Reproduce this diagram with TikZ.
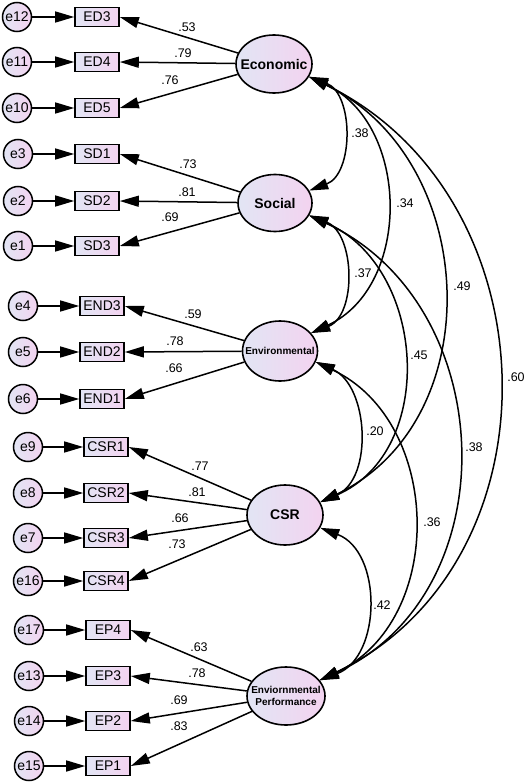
\documentclass[tikz,border=0pt]{standalone}
\usepackage{fontspec}
\setmainfont{Liberation Sans}
\usetikzlibrary{arrows.meta,shapes.geometric}
\definecolor{cl}{RGB}{226,229,244}
\definecolor{cr}{RGB}{243,211,240}
\begin{document}
\begin{tikzpicture}[x=1pt,y=1pt,
  errnode/.style={circle, draw, line width=1.5pt, minimum size=29pt, inner sep=0pt, left color=cl, right color=cr, font=\fontsize{14}{14}\selectfont},
  obsnode/.style={rectangle, draw, line width=1.6pt, minimum width=44pt, minimum height=19pt, inner sep=0pt, left color=cl, right color=cr, font=\fontsize{14}{14}\selectfont},
  latnode/.style={ellipse, draw, line width=1.6pt, inner sep=0pt, left color=cl, right color=cr},
  latlbl/.style={font=\bfseries\fontsize{14}{14}\selectfont, inner sep=0pt},
  onearrow/.style={line width=1.5pt, -{Triangle[length=19pt,width=11pt]}},
  twoarrow/.style={line width=1.5pt, {Triangle[length=19pt,width=11pt]}-{Triangle[length=19pt,width=11pt]}},
  lbl/.style={font=\fontsize{12.5}{12.5}\selectfont, inner sep=0pt}
]
\fill[white] (0,0) rectangle (526,-784);
\useasboundingbox (0,0) rectangle (526,-784);

% latent variables
\node[latnode, minimum width=76pt, minimum height=58pt, label={[latlbl]center:Economic}] (Eco) at (274,-64) {};
\node[latnode, minimum width=74pt, minimum height=57pt, label={[latlbl]center:Social}] (Soc) at (275,-203) {};
\node[latnode, minimum width=75pt, minimum height=60pt, label={[latlbl, font=\bfseries\fontsize{10}{10}\selectfont]center:Environmental}] (Env) at (280,-351) {};
\node[latnode, minimum width=76pt, minimum height=60pt, label={[latlbl]center:CSR}] (CSR) at (285,-515) {};
\node[latnode, minimum width=78pt, minimum height=58pt, label={[latlbl, align=center, font=\bfseries\fontsize{10}{11.5}\selectfont]center:{Enviornmental\\Performance}}] (EP) at (286,-696) {};

% observed variables and errors
\node[obsnode] (ED3) at (97,-17) {ED3};
\node[obsnode] (ED4) at (97,-62) {ED4};
\node[obsnode] (ED5) at (97,-108) {ED5};
\node[errnode] (e12) at (17,-17) {e12};
\node[errnode] (e11) at (17,-62) {e11};
\node[errnode] (e10) at (17,-108) {e10};

\node[obsnode] (SD1) at (97,-154) {SD1};
\node[obsnode] (SD2) at (97,-201) {SD2};
\node[obsnode] (SD3) at (97,-246) {SD3};
\node[errnode] (e3) at (18,-154) {e3};
\node[errnode] (e2) at (18,-201) {e2};
\node[errnode] (e1) at (18,-246) {e1};

\node[obsnode] (END3) at (102,-306) {END3};
\node[obsnode] (END2) at (102,-352) {END2};
\node[obsnode] (END1) at (102,-399) {END1};
\node[errnode] (e4) at (23,-306) {e4};
\node[errnode] (e5) at (23,-352) {e5};
\node[errnode] (e6) at (23,-399) {e6};

\node[obsnode] (CSR1) at (106,-447) {CSR1};
\node[obsnode] (CSR2) at (106,-493) {CSR2};
\node[obsnode] (CSR3) at (106,-538) {CSR3};
\node[obsnode] (CSR4) at (106,-581) {CSR4};
\node[errnode] (e9) at (28,-447) {e9};
\node[errnode] (e8) at (28,-493) {e8};
\node[errnode] (e7) at (28,-538) {e7};
\node[errnode] (e16) at (28,-581) {e16};

\node[obsnode] (EP4) at (108,-630) {EP4};
\node[obsnode] (EP3) at (108,-676) {EP3};
\node[obsnode] (EP2) at (108,-721) {EP2};
\node[obsnode] (EP1) at (108,-766) {EP1};
\node[errnode] (e17) at (29,-630) {e17};
\node[errnode] (e13) at (29,-676) {e13};
\node[errnode] (e14) at (29,-721) {e14};
\node[errnode] (e15) at (29,-766) {e15};

% error arrows
\foreach \e/\o in {e12/ED3,e11/ED4,e10/ED5,e3/SD1,e2/SD2,e1/SD3,e4/END3,e5/END2,e6/END1,e9/CSR1,e8/CSR2,e7/CSR3,e16/CSR4,e17/EP4,e13/EP3,e14/EP2,e15/EP1}
  \draw[onearrow] (\e) -- (\o);

% loadings
\foreach \l/\o in {Eco/ED3,Eco/ED4,Eco/ED5,Soc/SD1,Soc/SD2,Soc/SD3,Env/END3,Env/END2,Env/END1,CSR/CSR1,CSR/CSR2,CSR/CSR3,CSR/CSR4,EP/EP4,EP/EP3,EP/EP2,EP/EP1}
  \draw[onearrow] (\l) -- (\o.east);

\node[lbl] (l1) at (187,-27) {.53};
\node[lbl] (l2) at (183,-53) {.79};
\node[lbl] (l3) at (170,-80) {.76};
\node[lbl] (l4) at (188,-164) {.73};
\node[lbl] (l5) at (187,-192) {.81};
\node[lbl] (l6) at (170,-217) {.69};
\node[lbl] (l7) at (193,-314) {.59};
\node[lbl] (l8) at (175,-341) {.78};
\node[lbl] (l9) at (174,-368) {.66};
\node[lbl] (l10) at (200,-466) {.77};
\node[lbl] (l11) at (197,-492) {.81};
\node[lbl] (l12) at (180,-518) {.66};
\node[lbl] (l13) at (177,-544) {.73};
\node[lbl] (l14) at (199,-647) {.63};
\node[lbl] (l15) at (197,-673) {.78};
\node[lbl] (l16) at (179,-700) {.69};
\node[lbl] (l17) at (179,-726) {.83};

% covariances
\draw[twoarrow] (Eco.-20) to[out=-20.6, in=20.6, distance=47.8pt] (Soc.20);
\draw[twoarrow] (Eco.-20) to[out=-25, in=25, distance=111.6pt] (Env.30);
\draw[twoarrow] (Eco.-20) to[out=-25.7, in=25.7, distance=189.6pt] (CSR.20);
\draw[twoarrow] (Eco.-20) to[out=-25.8, in=25.8, distance=271.8pt] (EP.25);
\draw[twoarrow] (Soc.-20) to[out=-21.2, in=21.2, distance=49.3pt] (Env.30);
\draw[twoarrow] (Soc.-20) to[out=-23.6, in=23.6, distance=128.2pt] (CSR.20);
\draw[twoarrow] (Soc.-20) to[out=-24.8, in=24.8, distance=210.1pt] (EP.25);
\draw[twoarrow] (Env.-17) to[out=-24, in=24, distance=58.1pt] (CSR.20);
\draw[twoarrow] (Env.-17) to[out=-25.3, in=25.3, distance=140.3pt] (EP.25);
\draw[twoarrow] (CSR.-20) to[out=-20.9, in=20.9, distance=66.6pt] (EP.25);

\node[lbl] (c1) at (360,-133) {.38};
\node[lbl] (c2) at (405,-203) {.34};
\node[lbl] (c3) at (462,-286) {.49};
\node[lbl] (c4) at (516,-377) {.60};
\node[lbl] (c5) at (363,-273) {.37};
\node[lbl] (c6) at (419,-355) {.45};
\node[lbl] (c7) at (474,-447) {.38};
\node[lbl] (c8) at (375,-431) {.20};
\node[lbl] (c9) at (432,-522) {.36};
\node[lbl] (c10) at (382,-605) {.42};
\end{tikzpicture}
\end{document}
